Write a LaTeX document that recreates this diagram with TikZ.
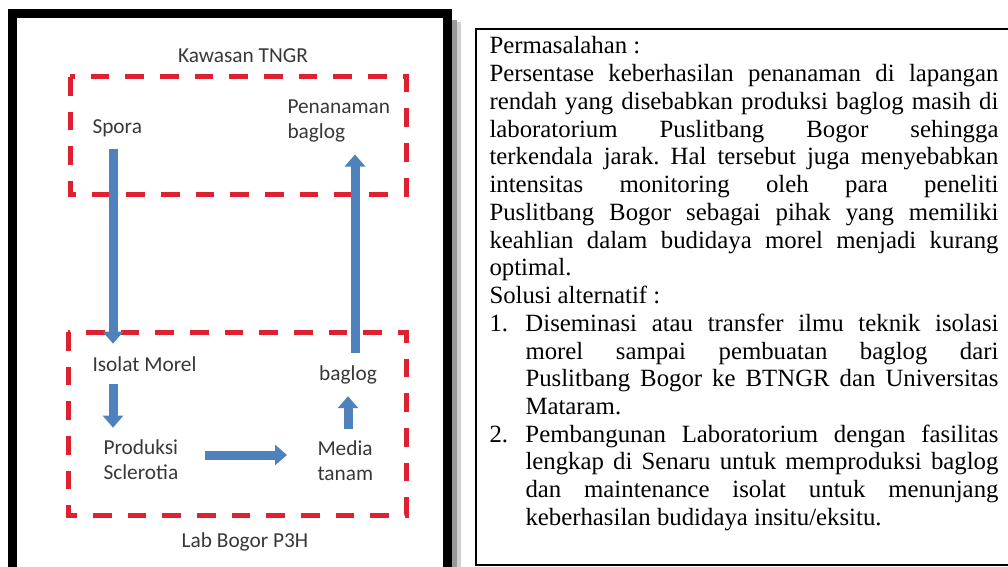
\documentclass[tikz,border=0pt]{standalone}
\usepackage{fontspec}
\usetikzlibrary{arrows.meta}
\newfontfamily\labelfont{Carlito}
\newfontfamily\notefont{Liberation Serif}
\definecolor{flowblue}{RGB}{79,129,189}
\definecolor{zonered}{RGB}{222,32,48}
\tikzset{every picture/.style={line width=0.75pt}}
\tikzset{
  lbl/.style={font=\labelfont\fontsize{16}{18.5}\selectfont, text=black!78, inner sep=3pt, align=left},
  note/.style={font=\notefont\fontsize{18.6}{20.8}\selectfont\frenchspacing, text width=381.75pt, align=justify, inner sep=0pt},
  flow/.style={draw=flowblue, line width=6.75pt, -{Triangle[length=9pt,width=15pt]}, shorten <=6pt, shorten >=6pt},
  zone/.style={draw=zonered, line width=3.75pt, dash pattern=on 14pt off 12pt},
}

\begin{document}
\begin{tikzpicture}[x=0.75pt,y=0.75pt,yscale=-1,xscale=1]
\useasboundingbox (0,0) rectangle (1008,567);

%Shape: Frame and its shadow
\fill [black!40] (452,20) rectangle (457,567);
\fill [black!18] (457,22) rectangle (461,567);
\draw [line width=6.75pt] (12.5,14) rectangle (447.5,572);
%Shape: Dashed zones
\draw [zone] (70,77) rectangle (406,194);
\draw [zone] (68,332) rectangle (406,515);

% Text Node
\node [lbl, anchor=base] (tngr) at (243,63) {Kawasan TNGR};
% Text Node
\node [lbl, anchor=base west] (spora) at (88,133) {Spora};
% Text Node
\node [lbl, anchor=west] (tanam) at (283,121) {Penanaman\\baglog};
% Text Node
\node [lbl, anchor=base west] (isolat) at (88,371) {Isolat Morel};
% Text Node
\node [lbl, anchor=base] (bag) at (348,380) {baglog};
% Text Node
\node [lbl, anchor=west] (prod) at (99,460) {Produksi\\Sclerotia};
% Text Node
\node [lbl, anchor=west] (media) at (313,461) {Media\\tanam};
% Text Node
\node [lbl, anchor=base] (lab) at (245,547) {Lab Bogor P3H};

\coordinate (colL) at (113,0);
\coordinate (colR) at (355,0);
\coordinate (rowM) at (0,455);

%Arrows
\draw [flow] (spora.south -| colL) -- (isolat.north -| colL);
\draw [flow] (isolat.south -| colL) -- (prod.north -| colL);
\draw [flow, shorten <=17pt, shorten >=19.5pt] (prod.east |- rowM) -- (media.west |- rowM);
\draw [flow] (media.north -| bag.center) -- (bag.south);
\draw [flow] (bag.north -| colR) -- (tanam.south -| colR);

%Shape: Note box
\draw [line width=2pt] (476,29) rectangle (1012,565);
% Text Node
\node [note, anchor=base west] (notes) at (489,54) {\tolerance=10000 \hyphenpenalty=10000
Permasalahan :\par
Persentase keberhasilan penanaman di lapangan\linebreak
rendah yang disebabkan produksi baglog masih di\linebreak
laboratorium Puslitbang Bogor sehingga\linebreak
terkendala jarak. Hal tersebut juga menyebabkan\linebreak
intensitas monitoring oleh para peneliti\linebreak
Puslitbang Bogor sebagai pihak yang memiliki\linebreak
keahlian dalam budidaya morel menjadi kurang\linebreak
optimal.\par
Solusi alternatif :\par
\noindent\makebox[27pt][l]{1.}\hangindent=27pt \hangafter=1 Diseminasi atau transfer ilmu teknik isolasi\linebreak
morel sampai pembuatan baglog dari\linebreak
Puslitbang Bogor ke BTNGR dan Universitas\linebreak
Mataram.\par
\noindent\makebox[27pt][l]{2.}\hangindent=27pt \hangafter=1 Pembangunan Laboratorium dengan fasilitas\linebreak
lengkap di Senaru untuk memproduksi baglog\linebreak
dan maintenance isolat untuk menunjang\linebreak
keberhasilan budidaya insitu/eksitu.\par};

\end{tikzpicture}
\end{document}
